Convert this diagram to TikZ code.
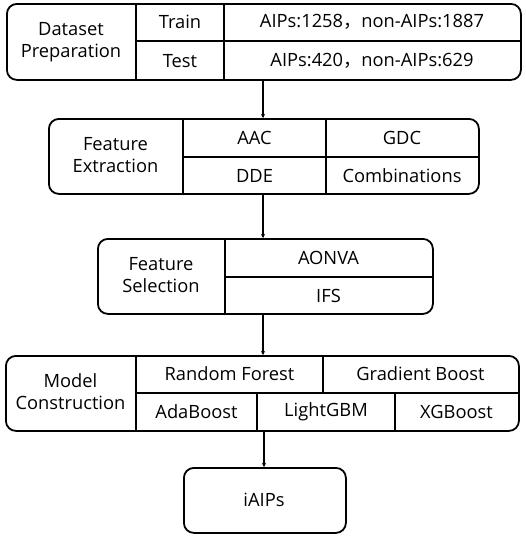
\documentclass[tikz,border=0pt]{standalone}
\usepackage{fontspec}
\setmainfont{Open Sans}
\newfontfamily\cjk{Noto Sans CJK SC}
\usetikzlibrary{arrows.meta}
\begin{document}
\begin{tikzpicture}[x=1pt,y=-1pt,
  box/.style={draw,line width=1.8pt,rounded corners=10pt,anchor=north west,inner sep=0pt},
  sep/.style={line width=1.2pt},
  lbl/.style={font=\fontsize{18.3}{22}\selectfont,align=center,inner sep=0pt},
  conn/.style={line width=1.2pt,-{Stealth[length=4pt,width=4pt]}}]
\useasboundingbox (0,0) rectangle (526,536);
% Box 1
\node[box,minimum width=514pt,minimum height=76pt] (b1) at (6,3) {};
\draw[sep] (136,3) -- (136,79);
\draw[sep] (224,3) -- (224,79);
\draw[sep] (136,41) -- (520,41);
\node[lbl] (t1) at (71,42) {Dataset\\Preparation};
\node[lbl] (t1a) at (180,22) {Train};
\node[lbl] (t1b) at (180,61) {Test};
\node[lbl] (t1c) at (372,22) {AIPs:1258{\cjk ，}non-AIPs:1887};
\node[lbl] (t1d) at (372,61) {AIPs:420{\cjk ，}non-AIPs:629};
% Box 2
\node[box,minimum width=430pt,minimum height=75pt] (b2) at (48,118) {};
\draw[sep] (183,118) -- (183,193);
\draw[sep] (326,118) -- (326,193);
\draw[sep] (183,157) -- (478,157);
\node[lbl] (t2) at (115.5,155) {Feature\\Extraction};
\node[lbl] (t2a) at (254.5,138) {AAC};
\node[lbl] (t2b) at (402,138) {GDC};
\node[lbl] (t2c) at (254.5,176) {DDE};
\node[lbl] (t2d) at (402,176) {Combinations};
% Box 3
\node[box,minimum width=335pt,minimum height=75pt] (b3) at (97,238) {};
\draw[sep] (225,238) -- (225,313);
\draw[sep] (225,277) -- (432,277);
\node[lbl] (t3) at (161,275) {Feature\\Selection};
\node[lbl] (t3a) at (328.5,258) {AONVA};
\node[lbl] (t3b) at (328.5,296) {IFS};
% Box 4
\node[box,minimum width=513pt,minimum height=75pt] (b4) at (5,355) {};
\draw[sep] (136,355) -- (136,430);
\draw[sep] (136,393) -- (518,393);
\draw[sep] (323,355) -- (323,393);
\draw[sep] (257,393) -- (257,430);
\draw[sep] (395,393) -- (395,430);
\node[lbl] (t4) at (70.5,392) {Model\\Construction};
\node[lbl] (t4a) at (229.5,374) {Random Forest};
\node[lbl] (t4b) at (420.5,374) {Gradient Boost};
\node[lbl] (t4c) at (196.5,412) {AdaBoost};
\node[lbl] (t4d) at (326,412) {LightGBM};
\node[lbl] (t4e) at (456.5,412) {XGBoost};
% Box 5
\node[box,minimum width=162pt,minimum height=65pt] (b5) at (183,467) {};
\node[lbl] (t5) at (264,500) {iAIPs};
% connectors
\coordinate (c1) at (263,79);
\coordinate (c2) at (263,193);
\coordinate (c3) at (263,313);
\coordinate (c4) at (264,430);
\draw[conn] (c1) -- (c1 |- b2.north);
\draw[conn] (c2) -- (c2 |- b3.north);
\draw[conn] (c3) -- (c3 |- b4.north);
\draw[conn] (c4) -- (c4 |- b5.north);
\end{tikzpicture}
\end{document}
